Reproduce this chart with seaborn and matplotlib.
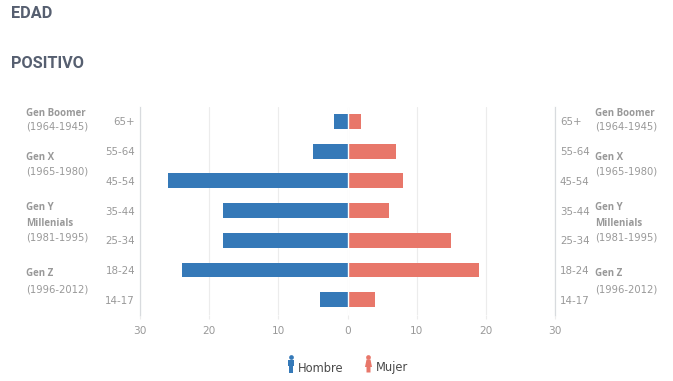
import pandas as pd
import numpy as np
import seaborn as sns
import matplotlib.pyplot as plt
from matplotlib.patches import Polygon

W, H = 673, 381

# datos
ages = ['65+', '55-64', '45-54', '35-44', '25-34', '18-24', '14-17']
hombre = [2, 5, 26, 18, 18, 24, 4]
mujer = [2, 7, 8, 6, 15, 19, 4]
x_ticks = [-30, -20, -10, 0, 10, 20, 30]
x_labels = ['30', '20', '10', '0', '10', '20', '30']
gen_labels = [
    ('Gen Boomer', True, 113), ('(1964-1945)', False, 127),
    ('Gen X', True, 157), ('(1965-1980)', False, 171),
    ('Gen Y', True, 208), ('Millenials', True, 223), ('(1981-1995)', False, 238),
    ('Gen Z', True, 274), ('(1996-2012)', False, 289),
]

BLUE = '#3579b8'
RED = '#e8776a'
GRAY = '#999999'

sns.set_theme(style='white')
plt.rcParams['font.family'] = ['DejaVu Sans']

df = pd.DataFrame({'age': ages, 'Hombre': -np.array(hombre), 'Mujer': mujer})

fig = plt.figure(figsize=(W / 100, H / 100), dpi=100)
ax = fig.add_axes([140 / W, 1 - 314.5 / H, 415 / W, 208 / H])

sns.barplot(data=df, y='age', x='Hombre', color=BLUE, width=0.5, saturation=1, linewidth=0, ax=ax, zorder=3)
sns.barplot(data=df, y='age', x='Mujer', color=RED, width=0.5, saturation=1, linewidth=0, ax=ax, zorder=3)
ax.axvline(0, color='white', lw=1, zorder=4)

ax.set_xlim(-30, 30)
ax.set_ylim(6.5, -0.5)
ax.set_xlabel('')
ax.set_ylabel('')
ax.set_xticks(x_ticks)
ax.set_xticklabels(x_labels)
ax.grid(axis='x', color='#ececec', lw=0.8, zorder=0)
ax.set_axisbelow(True)
ax.tick_params(axis='x', length=3, width=0.8, color='#ececec', labelcolor=GRAY, labelsize=7.6, pad=5, bottom=True)
ax.tick_params(axis='y', length=0, labelcolor=GRAY, labelsize=7.4, pad=3.5)

ax2 = ax.twinx()
ax2.set_ylim(6.5, -0.5)
ax2.set_yticks(range(len(ages)))
ax2.set_yticklabels(ages)
ax2.tick_params(axis='y', length=0, labelcolor=GRAY, labelsize=7.4, pad=3.5)

for a in (ax, ax2):
    for s in ('top', 'bottom'):
        a.spines[s].set_visible(False)
    for s in ('left', 'right'):
        a.spines[s].set_color('#d8dbde')
        a.spines[s].set_linewidth(0.8)

# titulos
fig.text(11.5 / W, 1 - 13 / H, 'EDAD', family='Roboto', weight='bold', fontsize=11.7, color='#565f70', va='center')
fig.text(11.5 / W, 1 - 63 / H, 'POSITIVO', family='Roboto', weight='bold', fontsize=11.7, color='#565f70', va='center')

# generaciones
for x0 in (26, 595):
    for txt, bold, y in gen_labels:
        if bold:
            fig.text(x0 / W, 1 - y / H, txt, family='Open Sans', weight='bold', fontsize=7, color=GRAY, va='center')
        else:
            fig.text(x0 / W, 1 - y / H, txt, fontsize=7.2, color=GRAY, va='center')


# leyenda con iconos
def person(x, color, female=False):
    t = fig.transFigure
    sx, sy = 1 / W, 1 / H
    fig.add_artist(plt.Line2D([x * sx], [1 - 357.3 * sy], marker='o', ms=3.4, color=color, mew=0, transform=t))
    if female:
        pts = [(x - 2, 359.5), (x + 2, 359.5), (x + 3.5, 367), (x + 2, 367), (x + 2, 372.5), (x - 2, 372.5), (x - 2, 367), (x - 3.5, 367)]
    else:
        pts = [(x - 3, 359.5), (x + 3, 359.5), (x + 3, 366), (x + 1.8, 366), (x + 1.8, 372.5), (x - 1.8, 372.5), (x - 1.8, 366), (x - 3, 366)]
    fig.add_artist(Polygon([(p * sx, 1 - q * sy) for p, q in pts], closed=True, color=color, lw=0, transform=t))


person(291, BLUE)
person(368.5, RED, female=True)
fig.text(298 / W, 1 - 368 / H, 'Hombre', fontsize=8.3, color='#4a4a4a', va='center')
fig.text(376 / W, 1 - 368 / H, 'Mujer', fontsize=8.3, color='#4a4a4a', va='center')

fig.savefig('out.png', dpi=100)
